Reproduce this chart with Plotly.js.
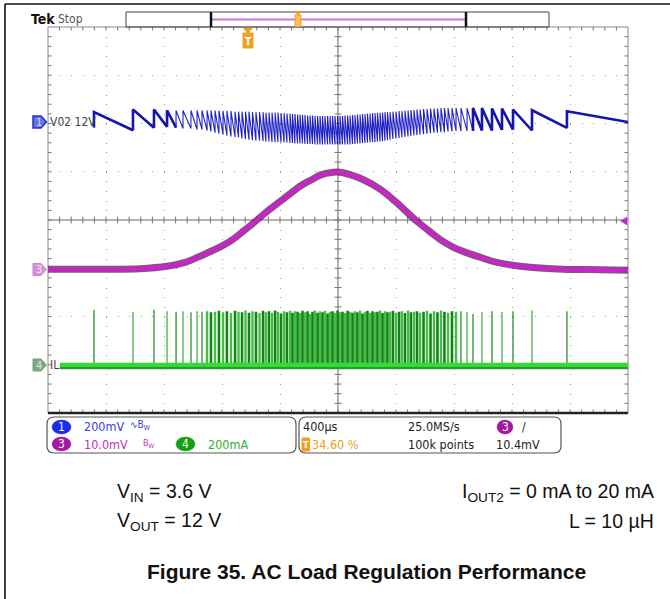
<!DOCTYPE html>
<html><head><meta charset="utf-8">
<script src="https://cdn.plot.ly/plotly-3.0.1.min.js"></script>
<style>html,body{margin:0;padding:0;background:#fff;}#chart{width:670px;height:599px;}</style>
</head><body><div id="chart"></div>
<script>
// ---------- DATA (time in µs from left edge of screen, 400 µs/div) ----------
// Inductor-current pulse times (CH4 spikes; CH1 recharge instants)
const pulseTimes = [317,586,731,821,883,931,986,1028,1062,1097,1124,
 1152,1179,1207,1234,1262,1290,
 1314,1338,1362,1386,1410,1434,1459,1483,
 1503,1524,1545,1566,1586,1607,1628,1648,1669,
 1686,1703,1721,1738,1755,1772,1790,1807,1824,1841,1859,1876,1893,1910,1928,1945,1962,1979,1997,2014,
 2031,2048,2066,2083,2100,2117,2134,2152,2169,2186,2203,2221,2238,2255,2272,2290,2307,2324,2341,2359,
 2379,2400,2421,2441,2462,2483,2503,2524,2545,2566,
 2590,2614,2638,2662,2686,2710,2734,
 2759,2786,2814,
 2848,2890,2931,2993,3062,3131,3207,3338,3579];
// CH1 (V02, 200 mV/div, relative to its marker): value just after each pulse
const ch1Top = [39,50,50,46,46,46,46,46,46,46,46,
 46,46,44,44,44,41,
 41,41,41,41,39,39,39,39,
 37,37,37,37,37,35,35,33,33,
 31,31,29,29,27,27,25,25,25,23,23,23,23,23,23,23,23,23,23,23,
 23,25,25,25,27,27,29,29,31,31,33,33,35,35,37,37,37,39,39,39,
 41,41,44,44,46,46,48,48,50,50,
 52,52,54,54,54,56,56,
 56,56,56,
 56,56,56,56,54,54,50,47,43];
// CH1 value just before the next pulse (last one: at right edge)
const ch1Bottom = [-36,-26,-22,-25,-29,-29,-33,-33,-37,-41,-46,
 -50,-54,-58,-62,-64,-66,
 -70,-72,-75,-77,-79,-79,-81,-83,
 -83,-85,-85,-85,-87,-87,-87,-89,-89,
 -91,-91,-91,-91,-93,-93,-93,-93,-95,-95,-95,-95,-95,-95,-95,-95,-95,-95,-95,-95,
 -95,-95,-95,-93,-93,-91,-91,-89,-89,-87,-87,-85,-85,-83,-83,-81,-79,-77,-75,-72,
 -70,-68,-66,-64,-62,-60,-58,-56,-54,-52,
 -50,-48,-46,-46,-44,-44,-41,
 -41,-39,-39,
 -39,-39,-37,-37,-35,-33,-37,-26,-2];
const ch1Start = -25;
// CH4 (IL, 200 mA/div) pulse peaks in mA
const ilPeaks = [228,220,228,222,220,222,218,222,220,222,218,
 220,224,218,222,215,224,
 220,218,225,216,222,220,214,224,
 218,222,216,225,220,212,222,218,224,
 216,222,220,214,224,218,222,210,220,225,216,222,218,224,212,220,222,216,225,218,
 220,214,224,220,216,222,218,225,212,220,224,216,222,218,220,225,214,222,218,220,
 224,216,220,222,214,225,218,220,222,216,
 220,224,212,222,218,225,220,
 216,222,220,
 222,220,210,220,222,220,222,225,222];
const ch4BaseTime = [83, 4000];
const ch4BaseValue = [0, 0];
// CH3 (10 mV/div, relative to its marker)
const ch3Time = [0,359,634,821,945,1048,1166,1276,1359,1414,1517,1621,1738,1821,1876,1966,2014,2083,2172,2290,2393,2462,2545,2621,2703,2793,2862,2979,3097,3324,3552,3807,4000];
const ch3Value = [-0.2,-0.2,-0.1,0.4,1.2,2.5,4.1,6.0,8.0,9.3,11.9,14.3,17.0,18.4,19.3,19.9,19.9,19.4,18.4,16.4,13.9,12.0,9.7,7.9,6.0,4.4,3.5,2.3,1.2,0.2,-0.2,-0.3,-0.4];
// scale settings
const ch1Scale = 200, ch3Scale = 10, ch4Scale = 200;   // per division
const ch1Pos = 2.04, ch3Pos = -1.0, ch4Pos = -3.0;     // marker positions (div)
const timeSpan = 4000, timeDiv = 400;

// ---------- helpers ----------
const L = 48, T = 27, W = 580, H = 386, WIN_H = 599;
const px = x => (x - L) / W;
const py = y => (T + H - y) / H;
const NARROW = "'Liberation Sans Narrow', 'DejaVu Sans Condensed', 'Arial Narrow', sans-serif";
const ARIAL = "'Liberation Sans', Arial, sans-serif";

const traces = [];
const n = Math.min(pulseTimes.length, ch1Top.length, ch1Bottom.length, ilPeaks.length);

// minor ticks (decoration)
(function(){
  const tx = [], ty = [];
  const lenY = 3.5 / (H / 8), lenX = 3.5 * timeSpan / W;
  for (let k = 1; k < 50; k++) {
    const t = k * timeDiv / 5;
    tx.push(t, t, null, t, t, null, t, t, null);
    ty.push(4, 4 - lenY, null, -4, -4 + lenY, null, -lenY, lenY, null);
  }
  for (let k = 1; k < 40; k++) {
    const v = -4 + k * 0.2;
    tx.push(0, lenX, null, timeSpan, timeSpan - lenX, null, timeSpan/2 - lenX, timeSpan/2 + lenX, null);
    ty.push(v, v, null, v, v, null, v, v, null);
  }
  traces.push({x: tx, y: ty, mode: 'lines', line: {color: '#777', width: 1}, hoverinfo: 'skip', xaxis: 'x', yaxis: 'y', cliponaxis: false});
})();

// CH4 spikes (isolated pulses thin, packed pulses drawn wider as on the scope)
(function(){
  const groups = {sd: [[], []], sl: [[], []], dd: [[], []], dl: [[], []]};
  for (let i = 0; i < n; i++) {
    const gapPrev = i > 0 ? pulseTimes[i] - pulseTimes[i - 1] : 1e9;
    const gapNext = i + 1 < n ? pulseTimes[i + 1] - pulseTimes[i] : 1e9;
    const dense = Math.min(gapPrev, gapNext) < 30;
    const key = (dense ? 'd' : 's') + (i % 2 === 0 ? 'd' : 'l');
    const g = groups[key];
    g[0].push(pulseTimes[i], pulseTimes[i], pulseTimes[i], null);
    g[1].push(0, ilPeaks[i], 0, null);
  }
  const st = {sd: ['#1a861a', 1.2], sl: ['#3aa83a', 1.2], dd: ['#17801a', 2.6], dl: ['#40c040', 2.4]};
  ['sl', 'dl', 'sd', 'dd'].forEach(k => traces.push({x: groups[k][0], y: groups[k][1], mode: 'lines', line: {color: st[k][0], width: st[k][1]}, yaxis: 'y4', hoverinfo: 'skip'}));
  traces.push({x: ch4BaseTime, y: ch4BaseValue.map(v => v - 12), mode: 'lines', line: {color: '#2a9a2a', width: 3}, yaxis: 'y4', hoverinfo: 'skip'});
  traces.push({x: ch4BaseTime, y: ch4BaseValue, mode: 'lines', line: {color: '#2ee02e', width: 4}, yaxis: 'y4', hoverinfo: 'skip'});
})();

// CH3
traces.push({x: ch3Time, y: ch3Value, mode: 'lines', line: {color: 'rgba(80,10,80,0.7)', width: 7, shape: 'spline', smoothing: 1}, yaxis: 'y3', hoverinfo: 'skip'});
traces.push({x: ch3Time, y: ch3Value, mode: 'lines', line: {color: '#cc22cc', width: 4, shape: 'spline', smoothing: 1}, yaxis: 'y3', hoverinfo: 'skip'});

// CH1 sawtooth from pulse instants
(function(){
  const xs = [pulseTimes[0]], ys = [ch1Start];
  const bx = [], by = [];
  let prevBottom = ch1Start;
  for (let i = 0; i < n; i++) {
    xs.push(pulseTimes[i]); ys.push(ch1Top[i]);
    const next = (i + 1 < n) ? pulseTimes[i + 1] : timeSpan;
    xs.push(next); ys.push(ch1Bottom[i]);
    if (next - pulseTimes[i] > 60) {
      bx.push(pulseTimes[i], pulseTimes[i], next, null);
      by.push(prevBottom, ch1Top[i], ch1Bottom[i], null);
    }
    prevBottom = ch1Bottom[i];
  }
  traces.push({x: xs, y: ys, mode: 'lines', line: {color: '#2323c4', width: 1.1}, yaxis: 'y2', hoverinfo: 'skip'});
  traces.push({x: bx, y: by, mode: 'lines', line: {color: '#1414b0', width: 2.6}, yaxis: 'y2', hoverinfo: 'skip'});
})();

const rangeFor = (scale, pos) => [(-4 - pos) * scale, (4 - pos) * scale];

// ---------- shapes ----------
const shapes = [];
const rectPx = (x0, y0, x1, y1, line, fill, extra) => Object.assign({type: 'rect', xref: 'paper', yref: 'paper', x0: px(x0), x1: px(x1), y0: py(y1), y1: py(y0), line: line, fillcolor: fill || 'rgba(0,0,0,0)', layer: 'above'}, extra || {});
const lineP = (x0, y0, x1, y1, color, width) => ({type: 'line', xref: 'paper', yref: 'paper', x0: px(x0), x1: px(x1), y0: py(y0), y1: py(y1), line: {color: color, width: width}, layer: 'above'});
const pathPx = (pts, fill, lineColor, lw) => ({type: 'path', xref: 'paper', yref: 'paper', path: 'M' + pts.map(p => px(p[0]) + ',' + py(p[1])).join('L') + 'Z', fillcolor: fill, line: {color: lineColor || fill, width: lw || 0.5}, layer: 'above'});
function roundRect(x0, y0, x1, y1, r, color) {
  const P = (x, y) => px(x) + ',' + py(y);
  const d = 'M' + P(x0 + r, y0) + 'L' + P(x1 - r, y0) + 'Q' + P(x1, y0) + ' ' + P(x1, y0 + r) +
    'L' + P(x1, y1 - r) + 'Q' + P(x1, y1) + ' ' + P(x1 - r, y1) + 'L' + P(x0 + r, y1) +
    'Q' + P(x0, y1) + ' ' + P(x0, y1 - r) + 'L' + P(x0, y0 + r) + 'Q' + P(x0, y0) + ' ' + P(x0 + r, y0) + 'Z';
  return {type: 'path', xref: 'paper', yref: 'paper', path: d, line: {color: color, width: 1.2}, fillcolor: 'rgba(0,0,0,0)', layer: 'above'};
}
const ellipse = (cx, cy, rx, ry, fill) => ({type: 'circle', xref: 'paper', yref: 'paper', x0: px(cx - rx), x1: px(cx + rx), y0: py(cy + ry), y1: py(cy - ry), fillcolor: fill, line: {color: fill, width: 0.5}, layer: 'above'});

// outer frame
shapes.push(lineP(5, 4, 670, 4, '#111', 1.6));
shapes.push(lineP(5, 4, 5, 599, '#111', 1.6));
// screen border & center cross
shapes.push({type: 'rect', xref: 'paper', yref: 'paper', x0: 0, x1: 1, y0: 0, y1: 1, line: {color: '#888', width: 1}, layer: 'below'});
shapes.push({type: 'line', xref: 'paper', yref: 'paper', x0: 0.5, x1: 0.5, y0: 0, y1: 1, line: {color: '#666', width: 1}, layer: 'below'});
shapes.push({type: 'line', xref: 'paper', yref: 'paper', x0: 0, x1: 1, y0: 0.5, y1: 0.5, line: {color: '#666', width: 1}, layer: 'below'});
shapes.push(lineP(48, 413, 628, 413, '#222', 2.5));
// record bar
shapes.push(rectPx(126, 12, 549, 27, {color: '#444', width: 1}));
shapes.push(lineP(211, 19.5, 466, 19.5, '#d670d6', 2));
shapes.push(lineP(211, 12, 211, 27, '#111', 2.5));
shapes.push(lineP(466, 12, 466, 27, '#111', 2.5));
shapes.push(pathPx([[295, 12], [301, 12], [298, 15.5]], '#f0a020'));
shapes.push(rectPx(295, 15, 301, 26.5, {color: '#f0a020', width: 1}, '#f8c060'));
// trigger position marker
shapes.push(pathPx([[243.5, 28], [252.5, 28], [248, 33.5]], '#f0a020'));
shapes.push(rectPx(243, 33, 253, 48, {color: '#f0a020', width: 1}, '#f0a020'));
// channel markers
shapes.push(pathPx([[33, 116], [41, 116], [46.5, 122], [41, 128], [33, 128]], '#6a74d8', '#1e2ee6', 1.5));
shapes.push(pathPx([[33, 263.5], [41, 263.5], [46.5, 269.5], [41, 275.5], [33, 275.5]], '#d690d6', '#d080d0', 1));
shapes.push(pathPx([[33, 359], [41, 359], [46.5, 365], [41, 371], [33, 371]], '#80a880', '#78a078', 1));
// CH3 trigger level arrow
shapes.push(pathPx([[627, 217], [620.5, 221], [627, 225]], '#c828c8'));
// info panels
shapes.push(roundRect(47, 417, 296, 453, 7, '#555'));
shapes.push(roundRect(299, 417, 561, 453, 7, '#555'));
shapes.push(ellipse(61.5, 427, 9.5, 7, '#1a2af0'));
shapes.push(ellipse(61.5, 444, 9.5, 7, '#a21aa2'));
shapes.push(ellipse(185.5, 444, 9.5, 7, '#12a012'));
shapes.push(ellipse(505, 427, 8, 7, '#a21aa2'));
shapes.push(rectPx(302, 438, 309.5, 451, {color: '#f0a020', width: 1}, '#f0a020'));

// ---------- annotations ----------
const anns = [];
function ann(text, x, y, size, color, opts) {
  opts = opts || {};
  anns.push({text: text, xref: 'paper', yref: 'paper', x: px(x), y: py(y), xanchor: opts.anchor || 'left', yanchor: 'middle', showarrow: false, borderpad: 0,
    font: {family: opts.family || NARROW, size: size, color: color, weight: opts.weight || 'normal'}});
}
ann('Tek', 30, 19, 14, '#111', {weight: 'bold'});
ann('Stop', 57, 19.5, 12, '#555');
ann('T', 248, 41, 10, '#fff', {anchor: 'center', weight: 'bold'});
ann('V02 12V', 49, 122, 12, '#444');
ann('1', 38.5, 122, 11, '#d8d8e8', {anchor: 'center'});
ann('3', 38.5, 269.5, 11, '#f0e0f0', {anchor: 'center'});
ann('4', 38.5, 365, 11, '#e0e8e0', {anchor: 'center'});
ann('IL', 49, 365, 12, '#444');
// panel left
ann('1', 61.5, 427, 12, '#fff', {anchor: 'center'});
ann('3', 61.5, 444, 12, '#fff', {anchor: 'center'});
ann('4', 185.5, 444, 12, '#fff', {anchor: 'center'});
ann('200mV', 83, 427, 12.5, '#3c3cdc');
ann('∿B<sub>W</sub>', 129, 426, 10, '#3c3cdc');
ann('10.0mV', 83, 444, 12.5, '#c030c0');
ann('B<sub>W</sub>', 142, 443, 9, '#c030c0');
ann('200mA', 207, 444, 12.5, '#30b030');
// panel right
ann('400µs', 302, 427, 12.5, '#222');
ann('25.0MS/s', 407, 427, 12.5, '#222');
ann('3', 505, 427, 12, '#fff', {anchor: 'center'});
ann('/', 521, 427, 12, '#222');
ann('T', 305.8, 444.5, 9, '#fff', {anchor: 'center', weight: 'bold'});
ann('34.60 %', 311, 444, 12.5, '#f0a020');
ann('100k points', 407, 444, 12.5, '#222');
ann('10.4mV', 495, 444, 12.5, '#222');
// caption
ann('V<sub>IN</sub> = 3.6 V', 116, 492, 19.5, '#111', {family: ARIAL});
ann('V<sub>OUT</sub> = 12 V', 116, 521, 19.5, '#111', {family: ARIAL});
ann('I<sub>OUT2</sub> = 0 mA to 20 mA', 655, 492, 19.5, '#111', {family: ARIAL, anchor: 'right'});
ann('L = 10 µH', 655, 521, 19.5, '#111', {family: ARIAL, anchor: 'right'});
ann('Figure 35. AC Load Regulation Performance', 366, 571, 21, '#111', {family: ARIAL, anchor: 'center', weight: 'bold'});

const hidden = {visible: false, overlaying: 'y', fixedrange: true};
const layout = {
  width: 670, height: 599,
  margin: {l: L, r: 670 - L - W, t: T, b: WIN_H - T - H, pad: 0},
  paper_bgcolor: '#fff', plot_bgcolor: '#fff', showlegend: false,
  xaxis: {range: [0, timeSpan], dtick: timeDiv, tick0: 0, showgrid: true, gridcolor: '#9a9a9a', gridwidth: 1, griddash: '1px,8.65px',
    zeroline: false, showticklabels: false, ticks: '', showline: false, fixedrange: true},
  yaxis: {range: [-4, 4], dtick: 1, tick0: 0, showgrid: true, gridcolor: '#9a9a9a', gridwidth: 1, griddash: '1px,10.6px',
    zeroline: false, showticklabels: false, ticks: '', showline: false, fixedrange: true},
  yaxis2: Object.assign({range: rangeFor(ch1Scale, ch1Pos)}, hidden),
  yaxis3: Object.assign({range: rangeFor(ch3Scale, ch3Pos)}, hidden),
  yaxis4: Object.assign({range: rangeFor(ch4Scale, ch4Pos)}, hidden),
  shapes: shapes, annotations: anns
};
Plotly.newPlot('chart', traces, layout, {staticPlot: true, displayModeBar: false});
</script></body></html>
